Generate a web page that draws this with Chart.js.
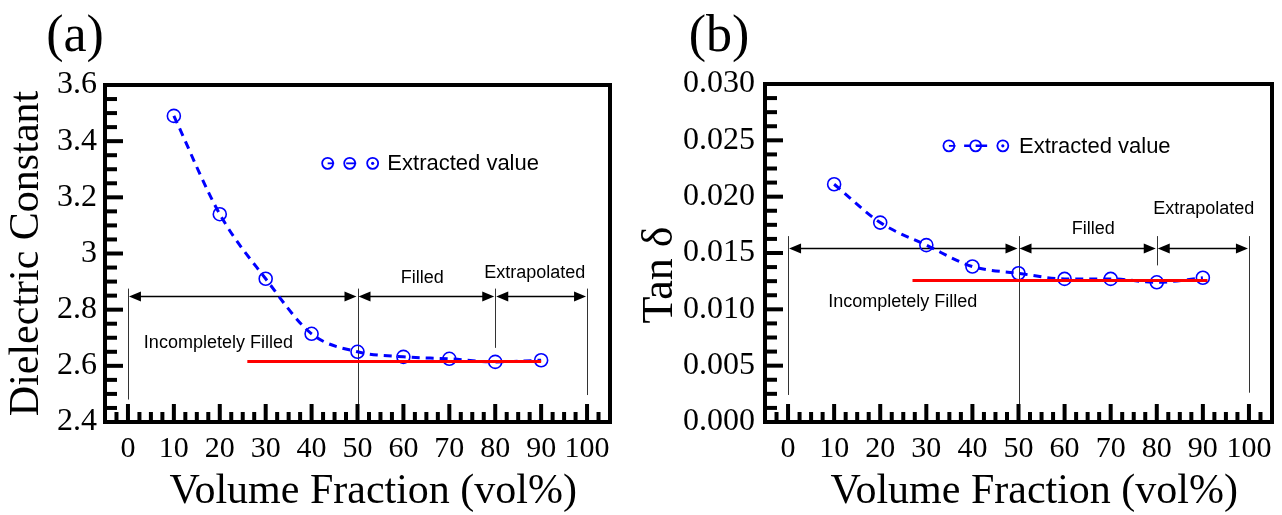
<!DOCTYPE html>
<html><head><meta charset="utf-8">
<script src="https://cdn.jsdelivr.net/npm/chart.js@4.4.1/dist/chart.umd.min.js"></script>
<style>
html,body{margin:0;padding:0;background:#fff;}
#wrap{position:relative;width:1282px;height:515px;overflow:hidden;}
.c{position:absolute;top:0;height:515px;}
</style></head><body>
<div id="wrap">
<div class="c" style="left:0;width:641px"><canvas id="ca"></canvas></div>
<div class="c" style="left:625px;width:657px"><canvas id="cb"></canvas></div>
</div>
<script>
// ---------- data ----------
const volumeFraction = [10, 20, 30, 40, 50, 60, 70, 80, 90];
const dielectricConstant = [3.49, 3.14, 2.91, 2.714, 2.65, 2.632, 2.625, 2.614, 2.62];
const tanDelta = [0.0211, 0.0177, 0.0157, 0.0138, 0.0132, 0.0127, 0.0127, 0.0124, 0.0128];
const xTickValues = [0, 10, 20, 30, 40, 50, 60, 70, 80, 90, 100];
const dkTickValues = [2.4, 2.6, 2.8, 3, 3.2, 3.4, 3.6];
const tdTickValues = [0, 0.005, 0.010, 0.015, 0.020, 0.025, 0.030];
const dkReferenceX = [26, 90];
const dkReferenceY = [2.615, 2.615];
const tdReferenceX = [27, 91];
const tdReferenceY = [0.01257, 0.01257];
const regionBounds = [0, 50, 80, 100];
const regionLabels = ['Incompletely Filled', 'Filled', 'Extrapolated'];
const seriesLabel = 'Extracted value';
const xTitle = 'Volume Fraction (vol%)';

// ---------- styling ----------
const SERIF = '"Liberation Serif","Times New Roman",serif';
const SANS = '"Liberation Sans",Arial,sans-serif';
const BLUE = 'rgb(0,0,255)';
const RED = 'rgb(255,0,0)';

function pts(xs, ys) { return xs.map((x, i) => ({ x: x, y: ys[i] })); }

const panelPlugin = {
  id: 'panel',
  beforeDatasetsDraw(chart, args, o) {
    const ctx = chart.ctx, xs = chart.scales.x, ys = chart.scales.y;
    const X = v => xs.getPixelForValue(v), Y = v => ys.getPixelForValue(v);
    ctx.save();
    // vertical boundary lines
    ctx.strokeStyle = '#333'; ctx.lineWidth = 1;
    regionBounds.forEach((b, i) => {
      const px = Math.round(X(b)) + 0.5;
      ctx.beginPath(); ctx.moveTo(px, Y(o.vTop)); ctx.lineTo(px, Y(o.vBottom[i])); ctx.stroke();
    });
    // arrows
    ctx.strokeStyle = '#000'; ctx.fillStyle = '#000'; ctx.lineWidth = 1.5;
    const ay = Math.round(Y(o.arrowY)) + 0.5;
    const head = (x, dir) => {
      ctx.beginPath(); ctx.moveTo(x, ay); ctx.lineTo(x - dir * 12, ay - 5); ctx.lineTo(x - dir * 12, ay + 5); ctx.closePath(); ctx.fill();
    };
    for (let i = 0; i < regionBounds.length - 1; i++) {
      const x0 = X(regionBounds[i]) + 1, x1 = X(regionBounds[i + 1]) - 1;
      ctx.beginPath(); ctx.moveTo(x0 + 4, ay); ctx.lineTo(x1 - 4, ay); ctx.stroke();
      head(x0, -1); head(x1, 1);
    }
    // region labels
    ctx.font = '18px ' + SANS; ctx.textAlign = 'center'; ctx.textBaseline = 'middle'; ctx.fillStyle = '#000';
    regionLabels.forEach((t, i) => ctx.fillText(t, X(o.labelPos[i][0]), Y(o.labelPos[i][1])));
    ctx.restore();
  },
  afterDatasetsDraw(chart, args, o) {
    const ctx = chart.ctx, xs = chart.scales.x, ys = chart.scales.y, a = chart.chartArea;
    const X = v => xs.getPixelForValue(v), Y = v => ys.getPixelForValue(v);
    ctx.save();
    // legend
    const ly = Y(o.legend.y);
    ctx.strokeStyle = BLUE; ctx.fillStyle = BLUE; ctx.lineWidth = 1.8;
    o.legend.markers.forEach(m => {
      const px = X(m[0]), r = 5.5;
      ctx.beginPath(); ctx.arc(px, ly, r, 0, Math.PI * 2); ctx.stroke();
      ctx.beginPath();
      if (m[1] === 'half') { ctx.moveTo(px, ly); ctx.lineTo(px + r + 1, ly); ctx.stroke(); }
      else if (m[1] === 'full') { ctx.moveTo(px - r + 2, ly); ctx.lineTo(px + r + 1, ly); ctx.stroke(); }
      else if (m[1] === 'out') { ctx.lineWidth = 2.5; ctx.moveTo(px - r - 6, ly); ctx.lineTo(px - r, ly); ctx.moveTo(px + r, ly); ctx.lineTo(px + r + 6, ly); ctx.moveTo(px, ly); ctx.lineTo(px + r, ly); ctx.stroke(); ctx.lineWidth = 1.8; }
      else if (m[1] === 'dot') { ctx.arc(px, ly, 1.6, 0, Math.PI * 2); ctx.fill(); }
    });
    ctx.fillStyle = '#000'; ctx.font = '22px ' + SANS; ctx.textAlign = 'left'; ctx.textBaseline = 'middle';
    ctx.fillText(chart.data.datasets[1].label, X(o.legend.textX), ly + 1);
    // inward ticks
    ctx.strokeStyle = '#000'; ctx.lineWidth = 4; ctx.lineCap = 'butt';
    const xt = xs.ticks.map(t => t.value), xStep = xt[1] - xt[0];
    for (let v = xs.min; v <= xs.max + 1e-9; v += xStep / 4) {
      const isMajor = xt.some(t => Math.abs(t - v) < 1e-9);
      const px = X(v), len = isMajor ? 18 : 10;
      ctx.beginPath(); ctx.moveTo(px, a.bottom); ctx.lineTo(px, a.bottom - len); ctx.stroke();
    }
    const yt = ys.ticks.map(t => t.value), yStep = yt[1] - yt[0];
    for (let k = 0; ; k++) {
      const v = ys.min + k * yStep / 4;
      if (v > ys.max + yStep * 1e-6) break;
      const isMajor = k % 4 === 0;
      const py = Y(v), len = isMajor ? 18 : 12;
      ctx.beginPath(); ctx.moveTo(a.left, py); ctx.lineTo(a.left + len, py); ctx.stroke();
    }
    // frame
    ctx.strokeRect(a.left, a.top, a.right - a.left, a.bottom - a.top);
    // panel letter
    ctx.fillStyle = '#000'; ctx.font = '52px ' + SERIF; ctx.textAlign = 'center'; ctx.textBaseline = 'alphabetic';
    ctx.fillText(o.letter, o.letterX, 51);
    ctx.restore();
  }
};

function makeChart(id, p) {
  return new Chart(document.getElementById(id), {
    type: 'line',
    data: {
      datasets: [
        { label: 'Reference', data: pts(p.refX, p.refY), borderColor: RED, borderWidth: 3, pointRadius: 0, fill: false },
        { label: seriesLabel, data: pts(volumeFraction, p.values), borderColor: BLUE, borderWidth: 3, borderDash: [8, 6],
          cubicInterpolationMode: 'monotone', pointRadius: 6.5, pointBorderWidth: 1.6, pointBorderColor: BLUE,
          pointBackgroundColor: 'rgba(0,0,0,0)', fill: false }
      ]
    },
    options: {
      responsive: true, maintainAspectRatio: false, animation: false,
      layout: { padding: { left: 0, top: p.top, right: p.right, bottom: 0 } },
      plugins: { legend: { display: false }, tooltip: { enabled: false }, panel: p.panel },
      scales: {
        x: {
          type: 'linear', min: -5, max: 105,
          afterBuildTicks: s => { s.ticks = xTickValues.map(v => ({ value: v })); },
          afterFit: s => { s.height = 515 - p.bottomPx; },
          grid: { display: false, drawTicks: false }, border: { display: false },
          ticks: { autoSkip: false, maxRotation: 0, color: '#000', padding: 9, font: { family: SERIF, size: 30 }, callback: v => String(v) },
          title: { display: true, text: '   ' + xTitle, color: '#000', font: { family: SERIF, size: 42, lineHeight: 1 }, padding: { top: 0, bottom: 2 } }
        },
        y: {
          type: 'linear', min: p.yMin, max: p.yMax,
          afterBuildTicks: s => { s.ticks = p.yTicks.map(v => ({ value: v })); },
          afterFit: s => { s.width = p.yWidth; },
          grid: { display: false, drawTicks: false }, border: { display: false },
          ticks: { color: '#000', padding: p.yPad, font: { family: SERIF, size: 32 }, callback: p.fmt },
          title: { display: true, text: p.yTitle, color: '#000', font: { family: SERIF, size: p.yTitleSize, lineHeight: 1 }, padding: { top: p.yTitlePad, bottom: 0 } }
        }
      }
    },
    plugins: [panelPlugin]
  });
}

makeChart('ca', {
  values: dielectricConstant, refX: dkReferenceX, refY: dkReferenceY,
  yMin: 2.4, yMax: 3.6, yTicks: dkTickValues, fmt: v => String(v),
  yTitle: 'Dielectric Constant', yTitleSize: 42, yTitlePad: 6,
  top: 85, right: 31, bottomPx: 422, yWidth: 105, yPad: 8,
  panel: {
    letter: '(a)', letterX: 75,
    arrowY: 2.847, vTop: 2.875, vBottom: [2.48, 2.4, 2.664, 2.496],
    labelPos: [[19.7, 2.682], [64.1, 2.914], [88.6, 2.932]],
    legend: { y: 3.321, textX: 56.5, markers: [[43.5, 'half'], [48.3, 'full'], [53.3, 'dot']] }
  }
});

makeChart('cb', {
  values: tanDelta, refX: tdReferenceX, refY: tdReferenceY,
  yMin: 0, yMax: 0.03, yTicks: tdTickValues, fmt: v => v.toFixed(3),
  yTitle: 'Tan δ    ', yTitleSize: 44, yTitlePad: 13,
  top: 84, right: 10, bottomPx: 422, yWidth: 140, yPad: 10,
  panel: {
    letter: '(b)', letterX: 94,
    arrowY: 0.0154, vTop: 0.0165, vBottom: [0.0024, 0, 0.0139, 0.0026],
    labelPos: [[24.9, 0.01062], [66.2, 0.01717], [90.2, 0.01894]],
    legend: { y: 0.02451, textX: 50.1, markers: [[34.9, 'half'], [40.7, 'out'], [46.6, 'dot']] }
  }
});
</script>
</body></html>
